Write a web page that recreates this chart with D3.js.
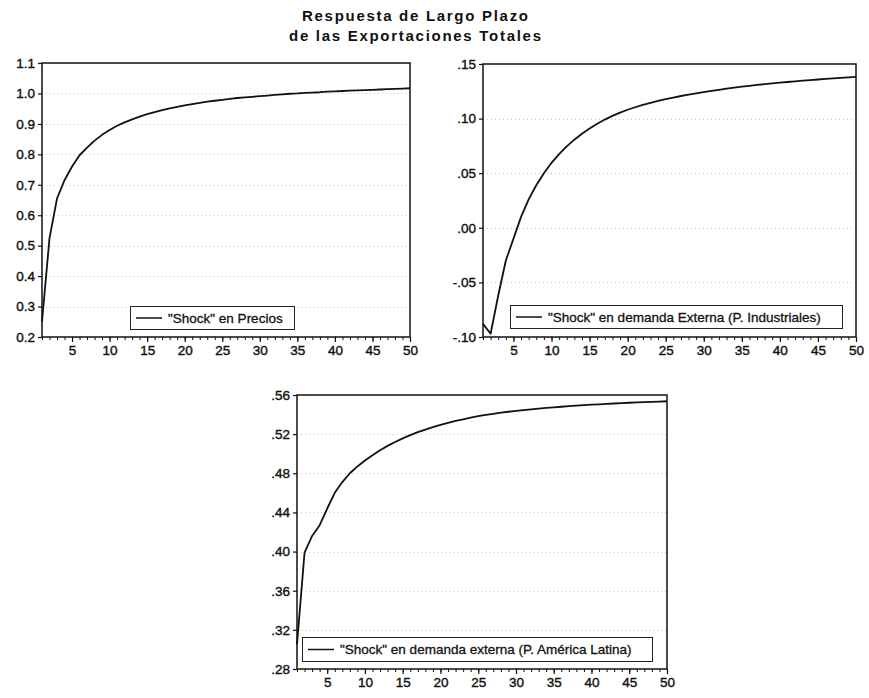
<!DOCTYPE html>
<html>
<head>
<meta charset="utf-8">
<script src="https://cdn.jsdelivr.net/npm/d3@7"></script>
<style>
  html, body { margin: 0; padding: 0; background: #fff; }
  svg { display: block; }
  text { font-family: "Liberation Sans", Arial, sans-serif; fill: #111; }
</style>
</head>
<body>
<svg id="chart" width="869" height="698"></svg>
<script>
// ---- DATA ----
const periods = d3.range(1, 51);
const xTickValues = [5, 10, 15, 20, 25, 30, 35, 40, 45, 50];

const titleLines = ["Respuesta de Largo Plazo", "de las Exportaciones Totales"];

const precios = [0.25, 0.525, 0.655, 0.715, 0.760, 0.797, 0.822, 0.845, 0.864, 0.880,
  0.894, 0.905, 0.915, 0.924, 0.932, 0.939, 0.945, 0.951, 0.956, 0.961,
  0.965, 0.969, 0.973, 0.976, 0.979, 0.982, 0.985, 0.987, 0.989, 0.991,
  0.993, 0.995, 0.997, 0.999, 1.000, 1.002, 1.003, 1.004, 1.006, 1.007,
  1.008, 1.009, 1.010, 1.011, 1.012, 1.013, 1.014, 1.015, 1.016, 1.017];
const preciosTicks = [0.2, 0.3, 0.4, 0.5, 0.6, 0.7, 0.8, 0.9, 1.0, 1.1];
const preciosLabels = ["0.2", "0.3", "0.4", "0.5", "0.6", "0.7", "0.8", "0.9", "1.0", "1.1"];
const preciosLegend = "\"Shock\" en Precios";

const industriales = [-0.088, -0.097, -0.062, -0.030, -0.010, 0.010, 0.026, 0.039, 0.050, 0.0595,
  0.0675, 0.0745, 0.0807, 0.0862, 0.0910, 0.0953, 0.0991, 0.1025, 0.1055, 0.1081,
  0.1104, 0.1125, 0.1144, 0.1162, 0.1178, 0.1193, 0.1207, 0.1220, 0.1232, 0.1243,
  0.1254, 0.1264, 0.1274, 0.1283, 0.1292, 0.1300, 0.1308, 0.1315, 0.1322, 0.1329,
  0.1335, 0.1341, 0.1347, 0.1353, 0.1358, 0.1363, 0.1368, 0.1373, 0.1378, 0.1383];
const industrialesTicks = [-0.10, -0.05, 0.00, 0.05, 0.10, 0.15];
const industrialesLabels = ["-.10", "-.05", ".00", ".05", ".10", ".15"];
const industrialesLegend = "\"Shock\" en demanda Externa (P. Industriales)";

const latina = [0.305, 0.399, 0.416, 0.427, 0.444, 0.460, 0.471, 0.480, 0.487, 0.493,
  0.4985, 0.5035, 0.5080, 0.5120, 0.5157, 0.5190, 0.5220, 0.5247, 0.5272, 0.5295,
  0.5316, 0.5335, 0.5352, 0.5368, 0.5383, 0.5396, 0.5408, 0.5419, 0.5429, 0.5438,
  0.5446, 0.5454, 0.5461, 0.5468, 0.5474, 0.5480, 0.5486, 0.5491, 0.5496, 0.5501,
  0.5505, 0.5509, 0.5513, 0.5517, 0.5521, 0.5524, 0.5527, 0.5530, 0.5533, 0.5536];
const latinaTicks = [0.28, 0.32, 0.36, 0.40, 0.44, 0.48, 0.52, 0.56];
const latinaLabels = [".28", ".32", ".36", ".40", ".44", ".48", ".52", ".56"];
const latinaLegend = "\"Shock\" en demanda externa (P. América Latina)";

// ---- LAYOUT ----
const panels = [
  { values: precios, ticks: preciosTicks, labels: preciosLabels, legend: preciosLegend,
    left: 42, right: 410, top: 63, bottom: 337, lg: { x: 130, y: 306, w: 164, h: 23 } },
  { values: industriales, ticks: industrialesTicks, labels: industrialesLabels, legend: industrialesLegend,
    left: 483, right: 856, top: 64, bottom: 337, lg: { x: 510, y: 305, w: 332, h: 23 } },
  { values: latina, ticks: latinaTicks, labels: latinaLabels, legend: latinaLegend,
    left: 297, right: 667, top: 395, bottom: 669, lg: { x: 302, y: 637, w: 350, h: 24 } }
];

const svg = d3.select("#chart");

// Title
const titleWidths = [226, 252];
svg.selectAll("text.title").data(titleLines).enter().append("text")
  .attr("class", "title")
  .attr("x", (d, i) => 415 - titleWidths[i] / 2)
  .attr("y", (d, i) => 21 + i * 20)
  .attr("font-size", 15)
  .attr("font-weight", "bold")
  .attr("textLength", (d, i) => titleWidths[i])
  .attr("lengthAdjust", "spacing")
  .text(d => d);

panels.forEach(p => {
  const g = svg.append("g");
  const x = d3.scaleLinear().domain([1, 50]).range([p.left, p.right]);
  const y = d3.scaleLinear().domain([p.ticks[0], p.ticks[p.ticks.length - 1]]).range([p.bottom, p.top]);

  // dotted grid
  g.append("g").selectAll("line").data(p.ticks.slice(1, -1)).enter().append("line")
    .attr("x1", p.left).attr("x2", p.right)
    .attr("y1", d => Math.round(y(d)) + 0.5).attr("y2", d => Math.round(y(d)) + 0.5)
    .attr("stroke", "#c4c4c4").attr("stroke-width", 1).attr("stroke-dasharray", "1,3");

  // legend box
  g.append("rect")
    .attr("x", p.lg.x + 0.5).attr("y", p.lg.y + 0.5)
    .attr("width", p.lg.w).attr("height", p.lg.h)
    .attr("fill", "#fff").attr("stroke", "#222").attr("stroke-width", 1);
  g.append("line")
    .attr("x1", p.lg.x + 6).attr("x2", p.lg.x + 32)
    .attr("y1", p.lg.y + p.lg.h / 2 + 0.5).attr("y2", p.lg.y + p.lg.h / 2 + 0.5)
    .attr("stroke", "#111").attr("stroke-width", 1.5);
  g.append("text")
    .attr("x", p.lg.x + 38).attr("y", p.lg.y + p.lg.h / 2 + 5)
    .attr("font-size", 13.5)
    .attr("stroke", "#111").attr("stroke-width", 0.3)
    .text(p.legend);

  // line
  const line = d3.line().x((d, i) => x(periods[i])).y(d => y(d));
  g.append("path").datum(p.values)
    .attr("d", line)
    .attr("fill", "none").attr("stroke", "#111").attr("stroke-width", 1.8)
    .attr("stroke-linejoin", "round");

  // frame
  g.append("rect")
    .attr("x", p.left).attr("y", p.top)
    .attr("width", p.right - p.left).attr("height", p.bottom - p.top)
    .attr("fill", "none").attr("stroke", "#111").attr("stroke-width", 1.5);

  // y axis
  const yAxis = d3.axisLeft(y).tickValues(p.ticks)
    .tickFormat((d, i) => p.labels[i]).tickSize(4).tickPadding(3);
  const ya = g.append("g").attr("transform", `translate(${p.left},0)`).call(yAxis);
  ya.select(".domain").remove();
  ya.selectAll("line").attr("stroke", "#111").attr("stroke-width", 1.2);
  ya.selectAll("text").attr("font-size", 13.5).attr("font-family", "Liberation Sans, Arial, sans-serif")
    .attr("fill", "#111").attr("stroke", "#111").attr("stroke-width", 0.4);

  // x axis: minor ticks
  const xMinor = d3.axisBottom(x).tickValues(periods).tickFormat("").tickSize(3);
  const xm = g.append("g").attr("transform", `translate(0,${p.bottom})`).call(xMinor);
  xm.select(".domain").remove();
  xm.selectAll("line").attr("stroke", "#111").attr("stroke-width", 1);

  const xAxis = d3.axisBottom(x).tickValues(xTickValues).tickSize(5).tickPadding(3);
  const xa = g.append("g").attr("transform", `translate(0,${p.bottom})`).call(xAxis);
  xa.select(".domain").remove();
  xa.selectAll("line").attr("stroke", "#111").attr("stroke-width", 1.2);
  xa.selectAll("text").attr("font-size", 13.5).attr("font-family", "Liberation Sans, Arial, sans-serif")
    .attr("fill", "#111").attr("stroke", "#111").attr("stroke-width", 0.4);
});
</script>
</body>
</html>
